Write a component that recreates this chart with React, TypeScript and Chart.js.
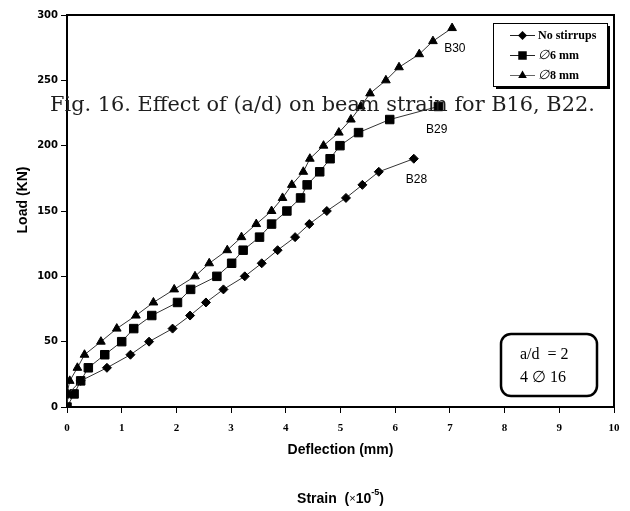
import React, { useEffect, useRef } from "react";
import { Chart, registerables } from "chart.js";

Chart.register(...registerables);

// ---- data (deflection in mm, load in kN) ----
const B28_DEFLECTION = [0, 0.02, 0.25, 0.73, 1.16, 1.5, 1.93, 2.25, 2.54, 2.86, 3.25, 3.56, 3.85, 4.17, 4.43, 4.75, 5.1, 5.4, 5.7, 6.34];
const B28_LOAD = [0, 10, 20, 30, 40, 50, 60, 70, 80, 90, 100, 110, 120, 130, 140, 150, 160, 170, 180, 190];

const B29_DEFLECTION = [0, 0.13, 0.25, 0.39, 0.69, 1.0, 1.22, 1.55, 2.02, 2.26, 2.74, 3.01, 3.22, 3.52, 3.74, 4.02, 4.27, 4.39, 4.62, 4.81, 4.99, 5.33, 5.9, 6.79];
const B29_LOAD = [0, 10, 20, 30, 40, 50, 60, 70, 80, 90, 100, 110, 120, 130, 140, 150, 160, 170, 180, 190, 200, 210, 220, 230];

const B30_DEFLECTION = [0, 0.0, 0.05, 0.19, 0.32, 0.62, 0.91, 1.26, 1.58, 1.96, 2.34, 2.6, 2.93, 3.19, 3.46, 3.74, 3.94, 4.11, 4.32, 4.44, 4.69, 4.97, 5.19, 5.37, 5.54, 5.83, 6.07, 6.44, 6.69, 7.04];
const B30_LOAD = [0, 10, 20, 30, 40, 50, 60, 70, 80, 90, 100, 110, 120, 130, 140, 150, 160, 170, 180, 190, 200, 210, 220, 230, 240, 250, 260, 270, 280, 290];

const SERIES_NAMES = ["No stirrups", "6 mm", "8 mm"];
const BEAM_LABELS = ["B28", "B29", "B30"];
const BEAM_LABEL_POS = [
  [6.39, 174],
  [6.76, 212.5],
  [7.09, 274],
];
const PHI = "\u2205";
const CAPTION = "Fig. 16. Effect of (a/d) on beam strain for B16, B22.";
const Y_TITLE = "Load (KN)";
const X_TITLE = "Deflection (mm)";
const ANNOT_LINES = ["a/d  = 2", "4 " + PHI + " 16"];

const toPoints = (xs: number[], ys: number[]) => xs.map((x, i) => ({ x, y: ys[i] }));

function drawMarker(ctx: CanvasRenderingContext2D, style: string, x: number, y: number, r: number) {
  ctx.beginPath();
  if (style === "rectRot") {
    ctx.moveTo(x, y - r);
    ctx.lineTo(x + r, y);
    ctx.lineTo(x, y + r);
    ctx.lineTo(x - r, y);
  } else if (style === "rect") {
    const h = r * Math.SQRT1_2;
    ctx.rect(x - h, y - h, 2 * h, 2 * h);
  } else {
    ctx.moveTo(x, y - r);
    ctx.lineTo(x + r * 0.866, y + r * 0.5);
    ctx.lineTo(x - r * 0.866, y + r * 0.5);
  }
  ctx.closePath();
  ctx.fillStyle = "#000";
  ctx.fill();
}

export default function App() {
  const ref = useRef<HTMLCanvasElement>(null);

  useEffect(() => {
    if (!ref.current) return;

    const overlay = {
      id: "overlay",
      beforeDatasetsDraw(chart: any) {
        const { ctx, chartArea } = chart;
        ctx.save();
        ctx.strokeStyle = "#000";
        ctx.lineWidth = 2;
        ctx.strokeRect(chartArea.left, chartArea.top, chartArea.right - chartArea.left, chartArea.bottom - chartArea.top);
        ctx.restore();
      },
      afterDraw(chart: any) {
        const { ctx, chartArea } = chart;
        const xs = chart.scales.x;
        const ys = chart.scales.y;
        ctx.save();

        // beam labels
        ctx.fillStyle = "#000";
        ctx.font = "12px 'Liberation Sans', Arial, sans-serif";
        ctx.textAlign = "center";
        ctx.textBaseline = "middle";
        BEAM_LABELS.forEach((t, i) => {
          ctx.fillText(t, xs.getPixelForValue(BEAM_LABEL_POS[i][0]), ys.getPixelForValue(BEAM_LABEL_POS[i][1]));
        });

        // axis titles
        ctx.font = "bold 14px 'Liberation Sans', Arial, sans-serif";
        const cx = (chartArea.left + chartArea.right) / 2;
        ctx.fillText(X_TITLE, cx, 450);
        ctx.save();
        ctx.translate(23, 200);
        ctx.rotate(-Math.PI / 2);
        ctx.fillText(Y_TITLE, 0, 0);
        ctx.restore();

        // Strain (x10^-5)
        const parts = [
          { t: "Strain  (", f: "bold 14px 'Liberation Sans', Arial, sans-serif", dy: 0 },
          { t: "\u00d7", f: "11px 'Liberation Sans', Arial, sans-serif", dy: 0 },
          { t: "10", f: "bold 14px 'Liberation Sans', Arial, sans-serif", dy: 0 },
          { t: "-5", f: "bold 9px 'Liberation Sans', Arial, sans-serif", dy: -6 },
          { t: ")", f: "bold 14px 'Liberation Sans', Arial, sans-serif", dy: 0 },
        ];
        let total = 0;
        parts.forEach((p) => {
          ctx.font = p.f;
          total += ctx.measureText(p.t).width;
        });
        let px = cx - total / 2;
        ctx.textAlign = "left";
        parts.forEach((p) => {
          ctx.font = p.f;
          ctx.fillText(p.t, px, 499 + p.dy);
          px += ctx.measureText(p.t).width;
        });

        // legend box
        const lx = 493, ly = 23, lw = 114, lh = 63;
        ctx.fillStyle = "#000";
        ctx.fillRect(lx + 3, ly + 3, lw, lh);
        ctx.fillStyle = "#fff";
        ctx.fillRect(lx, ly, lw, lh);
        ctx.strokeStyle = "#000";
        ctx.lineWidth = 1;
        ctx.strokeRect(lx + 0.5, ly + 0.5, lw, lh);
        const styles = ["rectRot", "rect", "triangle"];
        const radii = [4.5, 6, 5];
        const rows = [35, 55, 75];
        rows.forEach((ry, i) => {
          ctx.strokeStyle = i === 2 ? "#666" : "#222";
          ctx.beginPath();
          ctx.moveTo(510, ry + 0.5);
          ctx.lineTo(535, ry + 0.5);
          ctx.stroke();
          drawMarker(ctx, styles[i], 522.5, ry + 0.5, radii[i]);
          ctx.fillStyle = "#000";
          ctx.textBaseline = "middle";
          if (i === 0) {
            ctx.font = "bold 12px 'Liberation Serif', 'Times New Roman', serif";
            ctx.fillText(SERIES_NAMES[i], 538, ry + 1);
          } else {
            ctx.font = "italic 13px 'DejaVu Serif', serif";
            ctx.fillText(PHI, 538, ry + 1);
            const w = ctx.measureText(PHI).width;
            ctx.font = "bold 12px 'Liberation Serif', 'Times New Roman', serif";
            ctx.fillText(SERIES_NAMES[i], 538 + w + 1, ry + 1);
          }
        });

        // annotation box
        ctx.lineWidth = 2.5;
        ctx.strokeStyle = "#000";
        ctx.beginPath();
        (ctx as any).roundRect(501, 334, 96, 62, 10);
        ctx.stroke();
        ctx.fillStyle = "#000";
        ctx.font = "16px 'Liberation Serif', 'Times New Roman', serif";
        ctx.textAlign = "left";
        ctx.fillText(ANNOT_LINES[0], 520, 355);
        ctx.fillText(ANNOT_LINES[1], 520, 378);

        // caption overlay
        ctx.fillStyle = "#1e1e1e";
        ctx.font = "20px 'DejaVu Serif', serif";
        const w20 = ctx.measureText(CAPTION).width;
        const fs = (20 * 545) / w20;
        ctx.font = fs.toFixed(2) + "px 'DejaVu Serif', serif";
        ctx.fillText(CAPTION, 50, 106);

        ctx.restore();
      },
    };

    const lineColor = "#333";
    const common = {
      borderColor: lineColor,
      borderWidth: 1,
      pointBackgroundColor: "#000",
      pointBorderColor: "#000",
      pointBorderWidth: 1,
      showLine: true,
      tension: 0,
      fill: false,
    };

    const chart = new Chart(ref.current, {
      type: "line",
      data: {
        datasets: [
          { ...common, label: SERIES_NAMES[0], data: toPoints(B28_DEFLECTION, B28_LOAD), pointStyle: "rectRot", pointRadius: 4.5 },
          { ...common, label: SERIES_NAMES[1], data: toPoints(B29_DEFLECTION, B29_LOAD), pointStyle: "rect", pointRadius: 6 },
          { ...common, label: SERIES_NAMES[2], data: toPoints(B30_DEFLECTION, B30_LOAD), pointStyle: "triangle", pointRadius: 5 },
        ],
      },
      options: {
        responsive: false,
        animation: false,
        layout: { padding: { top: 15, right: 16, left: 0, bottom: 0 } },
        plugins: { legend: { display: false }, tooltip: { enabled: false }, title: { display: false } },
        scales: {
          x: {
            type: "linear",
            min: 0,
            max: 10,
            ticks: {
              stepSize: 1,
              color: "#000",
              padding: 9,
              maxRotation: 0,
              font: { family: "'Liberation Serif', 'Times New Roman', serif", weight: "bold", size: 11 },
            },
            grid: { drawOnChartArea: false, drawTicks: true, tickLength: 6, color: "#000" },
            border: { display: true, color: "#000", width: 2 },
            afterFit(scale: any) {
              scale.height = 104;
            },
          },
          y: {
            type: "linear",
            min: 0,
            max: 300,
            ticks: {
              stepSize: 50,
              color: "#000",
              padding: 3,
              font: { family: "'DejaVu Sans', sans-serif", weight: "bold", size: 10 },
            },
            grid: { drawOnChartArea: false, drawTicks: true, tickLength: 6, color: "#000" },
            border: { display: true, color: "#000", width: 2 },
            afterFit(scale: any) {
              scale.width = 67;
            },
          },
        },
      },
      plugins: [overlay],
    } as any);

    return () => chart.destroy();
  }, []);

  return (
    <div style={{ position: "fixed", left: 0, top: 0, width: 630, height: 511, background: "#fff" }}>
      <canvas ref={ref} width={630} height={511} style={{ display: "block" }} />
    </div>
  );
}
